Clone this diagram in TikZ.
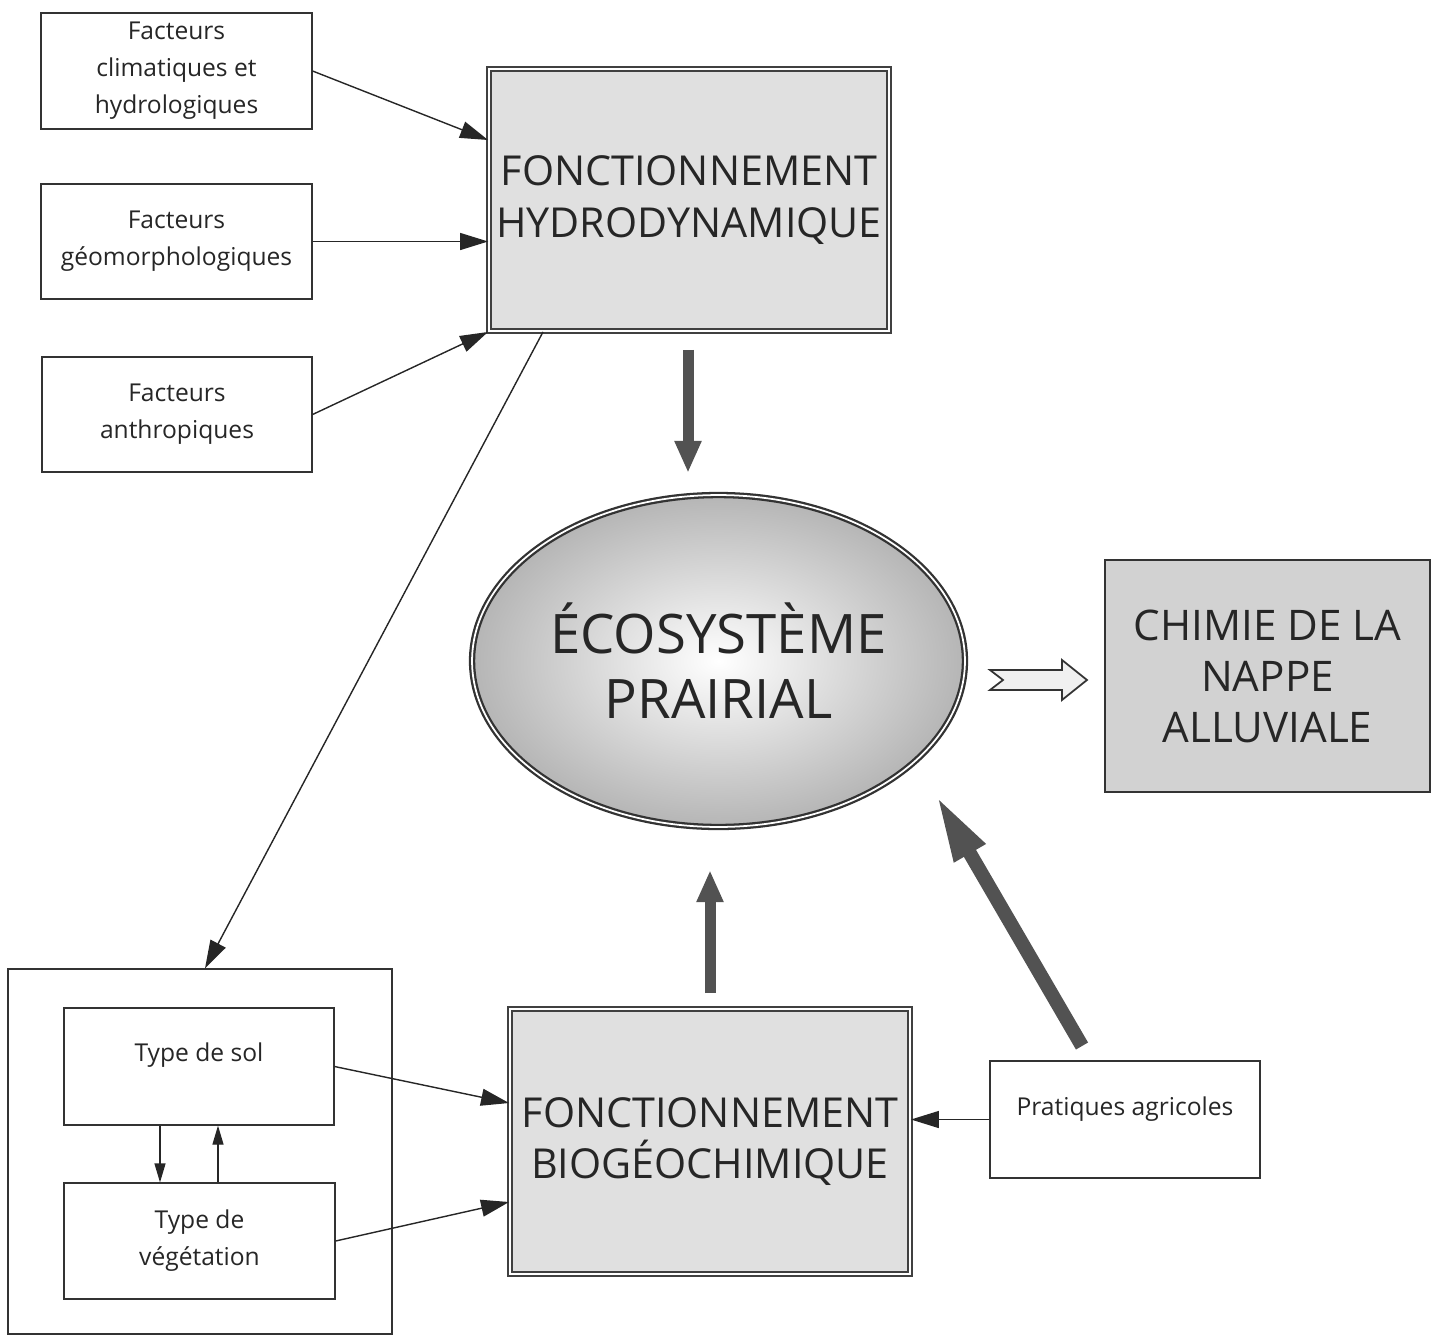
\documentclass[tikz,border=0pt]{standalone}
\usepackage{fontspec}
\setmainfont{Open Sans}
\usetikzlibrary{arrows.meta,shapes.geometric,calc}
\begin{document}
\begin{tikzpicture}[x=0.02cm,y=-0.02cm,
  small/.style={draw=black!80, line width=0.7pt, minimum width=5.42cm, minimum height=2.32cm,
    align=center, inner sep=0pt, font=\fontsize{14}{21}\selectfont, text=black!85},
  txt/.style={align=center, inner sep=0pt, font=\fontsize{14}{21}\selectfont, text=black!85},
  big/.style={draw=black!75, line width=1.1pt, double=white, double distance=1.3pt, fill=gray!24,
    minimum width=8.0cm, minimum height=5.24cm, align=center, inner sep=0pt,
    font=\fontsize{23.5}{29.5}\selectfont, text=black!85},
  conn/.style={-{Triangle[length=0.56cm,width=0.34cm]}, line width=0.8pt, draw=black!85},
  sconn/.style={-{Triangle[length=0.38cm,width=0.22cm]}, line width=0.7pt, draw=black!85},
  fat/.style={line width=0.22cm, draw=black!68, -{Triangle[length=0.64cm,width=0.5cm]}},
  hollow/.style={draw=black!80, line width=1pt, fill=gray!12, line join=miter}
]
\useasboundingbox (0,0) rectangle (1433,1336);

% left factor boxes
\node[small] (A) at (176.5,71) {Facteurs\\climatiques et\\hydrologiques};
\node[small, minimum height=2.3cm] (B) at (176.5,241.5) {Facteurs\\géomorphologiques};
\node[small, minimum width=5.4cm, minimum height=2.3cm] (C) at (177,414.5) {Facteurs\\anthropiques};

% main boxes
\node[big] (hydro) at (689,200) {FONCTIONNEMENT\\HYDRODYNAMIQUE};
\node[big, minimum height=5.3cm] (bio) at (710,1141.5) {FONCTIONNEMENT\\BIOGÉOCHIMIQUE};

% ellipse
\node[ellipse, draw=black!80, line width=1.3pt, double=white, double distance=1pt,
  inner color=white, outer color=gray!58, minimum width=9.86cm, minimum height=6.64cm,
  align=center, inner sep=0pt, font=\fontsize{31}{37}\selectfont, text=black!85]
  (eco) at (718.5,661) {ÉCOSYSTÈME\\PRAIRIAL};

% chemistry box
\node[draw=black!80, line width=0.9pt, fill=gray!35, minimum width=6.5cm, minimum height=4.64cm,
  align=center, inner sep=0pt, font=\fontsize{24}{29}\selectfont, text=black!85]
  (chim) at (1267.5,676) {CHIMIE DE LA\\NAPPE\\ALLUVIALE};

% outer box with soil / vegetation
\node[draw=black!80, line width=0.8pt, minimum width=7.68cm, minimum height=7.3cm] (outer) at (200,1151.5) {};
\node[small, minimum width=5.4cm, minimum height=2.34cm] (sol) at (199,1066.5) {};
\node[txt] (soltxt) at ([yshift=0.22cm]sol.center) {Type de sol};
\node[small, minimum height=2.32cm] (veg) at (199.5,1241) {Type de\\végétation};

% agricultural practices
\node[small, minimum width=5.4cm, minimum height=2.34cm] (prat) at (1125,1119.5) {};
\node[txt] (prattxt) at ([yshift=0.2cm]prat.center) {Pratiques agricoles};

% thin connectors
\draw[conn] (A.east) -- (hydro.west |- 0,140);
\draw[conn] (B.east) -- (hydro.west |- B.east);
\draw[conn] (C.east) -- (hydro.south west);
\draw[conn] (543,0 |- hydro.south) -- (205,0 |- outer.north);
\draw[conn] (sol.east) -- (bio.west |- 0,1103);
\draw[conn] (veg.east) -- (bio.west |- 0,1202);
\draw[conn] (prat.west) -- (prat.west -| bio.east);
\draw[sconn] (160,0 |- sol.south) -- (160,0 |- veg.north);
\draw[sconn] (218,0 |- veg.north) -- (218,0 |- sol.south);

% fat arrows
\draw[fat, shorten <=0.36cm, shorten >=0.42cm] (688,0 |- hydro.south) -- (688,0 |- eco.north);
\draw[fat, shorten <=0.3cm, shorten >=0.84cm] (bio.north) -- (bio.north |- eco.south);
\coordinate (d1) at (1082,1046);
\coordinate (d2) at (936,795);
\draw[line width=0.28cm, draw=black!68, -{Triangle[length=1.35cm,width=0.65cm]}] (d1) -- (d2);

% hollow arrow
\draw[hollow] (990,670) -- (1062,670) -- (1062,660) -- (1087,680) -- (1062,700) -- (1062,690) -- (990,690) -- (1003,680) -- cycle;
\end{tikzpicture}
\end{document}
